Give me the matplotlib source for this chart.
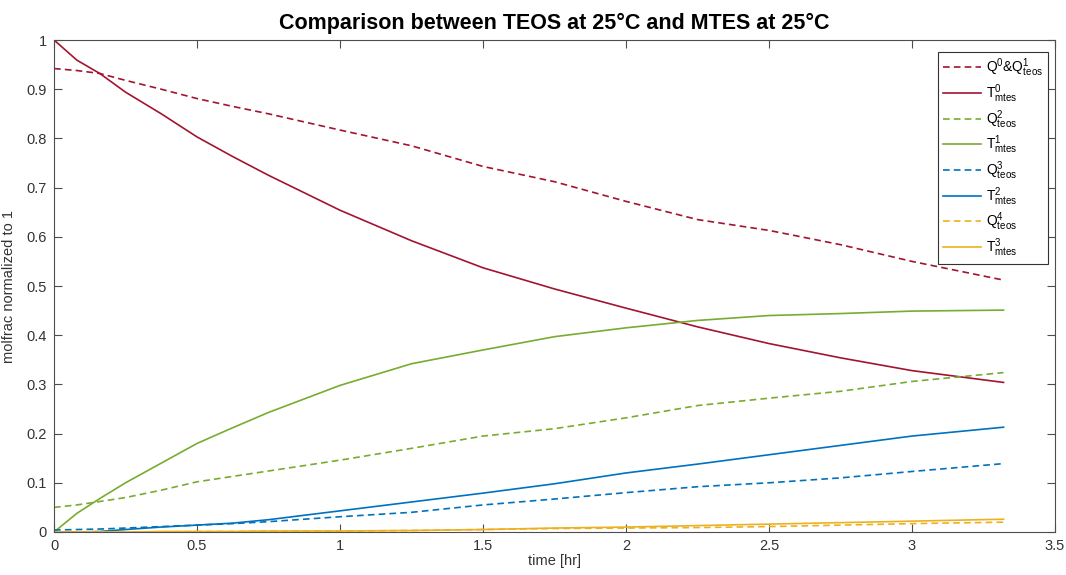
import matplotlib
matplotlib.use("Agg")
import matplotlib.pyplot as plt

plt.rcParams["font.family"] = ["Liberation Sans", "DejaVu Sans"]
plt.rcParams["mathtext.default"] = "regular"

# sample times [hr]
t = [0, 0.08, 0.16, 0.25, 0.375, 0.5, 0.625, 0.75, 1.0, 1.25, 1.5, 1.75,
     2.0, 2.25, 2.5, 2.75, 3.0, 3.32]

q01_teos = [0.942, 0.938, 0.932, 0.918, 0.900, 0.881, 0.865, 0.850, 0.817, 0.785,
            0.743, 0.712, 0.672, 0.635, 0.613, 0.584, 0.550, 0.512]
t0_mtes = [1.000, 0.959, 0.932, 0.894, 0.850, 0.803, 0.763, 0.725, 0.654, 0.592,
           0.537, 0.494, 0.455, 0.417, 0.383, 0.354, 0.328, 0.304]
q2_teos = [0.050, 0.055, 0.062, 0.070, 0.085, 0.102, 0.113, 0.124, 0.146, 0.170,
           0.195, 0.210, 0.232, 0.257, 0.272, 0.286, 0.306, 0.324]
t1_mtes = [0.000, 0.038, 0.068, 0.100, 0.140, 0.180, 0.212, 0.243, 0.298, 0.342,
           0.370, 0.397, 0.415, 0.430, 0.440, 0.444, 0.449, 0.451]
q3_teos = [0.004, 0.005, 0.006, 0.008, 0.011, 0.014, 0.017, 0.021, 0.031, 0.040,
           0.055, 0.067, 0.080, 0.092, 0.100, 0.110, 0.123, 0.139]
t2_mtes = [0.000, 0.000, 0.001, 0.005, 0.010, 0.014, 0.018, 0.025, 0.043, 0.061,
           0.079, 0.098, 0.120, 0.138, 0.157, 0.176, 0.195, 0.213]
q4_teos = [0.000, 0.000, 0.000, 0.000, 0.0005, 0.001, 0.001, 0.0015, 0.002, 0.003,
           0.005, 0.007, 0.008, 0.009, 0.011, 0.014, 0.017, 0.020]
t3_mtes = [0.000, 0.000, 0.000, 0.000, 0.001, 0.001, 0.001, 0.002, 0.002, 0.003,
           0.005, 0.008, 0.010, 0.013, 0.016, 0.019, 0.022, 0.026]

red = "#A2142F"
green = "#77AC30"
blue = "#0072BD"
yellow = "#EDB120"
axcol = "#4d4d4d"

fig = plt.figure(figsize=(10.66, 5.75), dpi=100)
ax = fig.add_axes([0.0507, 0.0748, 0.939, 0.8556])

lw = 1.2
dash = (0, (4, 2.5))
ax.plot(t, q01_teos, color=red, ls=dash, lw=lw, label=r"Q$^{0}$&Q$^{1}_{teos}$")
ax.plot(t, t0_mtes, color=red, lw=lw, label=r"T$^{0}_{mtes}$")
ax.plot(t, q2_teos, color=green, ls=dash, lw=lw, label=r"Q$^{2}_{teos}$")
ax.plot(t, t1_mtes, color=green, lw=lw, label=r"T$^{1}_{mtes}$")
ax.plot(t, q3_teos, color=blue, ls=dash, lw=lw, label=r"Q$^{3}_{teos}$")
ax.plot(t, t2_mtes, color=blue, lw=lw, label=r"T$^{2}_{mtes}$")
ax.plot(t, q4_teos, color=yellow, ls=dash, lw=lw, label=r"Q$^{4}_{teos}$")
ax.plot(t, t3_mtes, color=yellow, lw=lw, label=r"T$^{3}_{mtes}$")

ax.set_xlim(0, 3.5)
ax.set_ylim(0, 1)
ax.set_xticks([0, 0.5, 1, 1.5, 2, 2.5, 3, 3.5])
ax.set_xticklabels(["0", "0.5", "1", "1.5", "2", "2.5", "3", "3.5"])
ax.set_yticks([i / 10 for i in range(11)])
ax.set_yticklabels(["0"] + [f"{i / 10:g}" for i in range(1, 10)] + ["1"])
ax.tick_params(direction="in", top=True, right=True, length=6, width=0.8,
               colors=axcol, labelsize=10.5, labelcolor="#333333", pad=5)
for s in ax.spines.values():
    s.set_color(axcol)
    s.set_linewidth(0.8)

ax.set_xlabel("time [hr]", fontsize=10.5, color="#333333", labelpad=1)
ax.set_ylabel("molfrac normalized to 1", fontsize=10.5, color="#333333", labelpad=8)
ax.set_title("Comparison between TEOS at 25°C and MTES at 25°C",
             fontsize=15.5, fontweight="bold", pad=8)

leg = ax.legend(loc="upper right", bbox_to_anchor=(0.993, 0.976), fontsize=10,
                handlelength=2.7, handletextpad=0.4, borderpad=0.35,
                frameon=True, fancybox=False, edgecolor="#333333",
                borderaxespad=0, labelspacing=0.22, framealpha=1)
leg.get_frame().set_linewidth(0.8)

fig.savefig("out.png", dpi=100)
